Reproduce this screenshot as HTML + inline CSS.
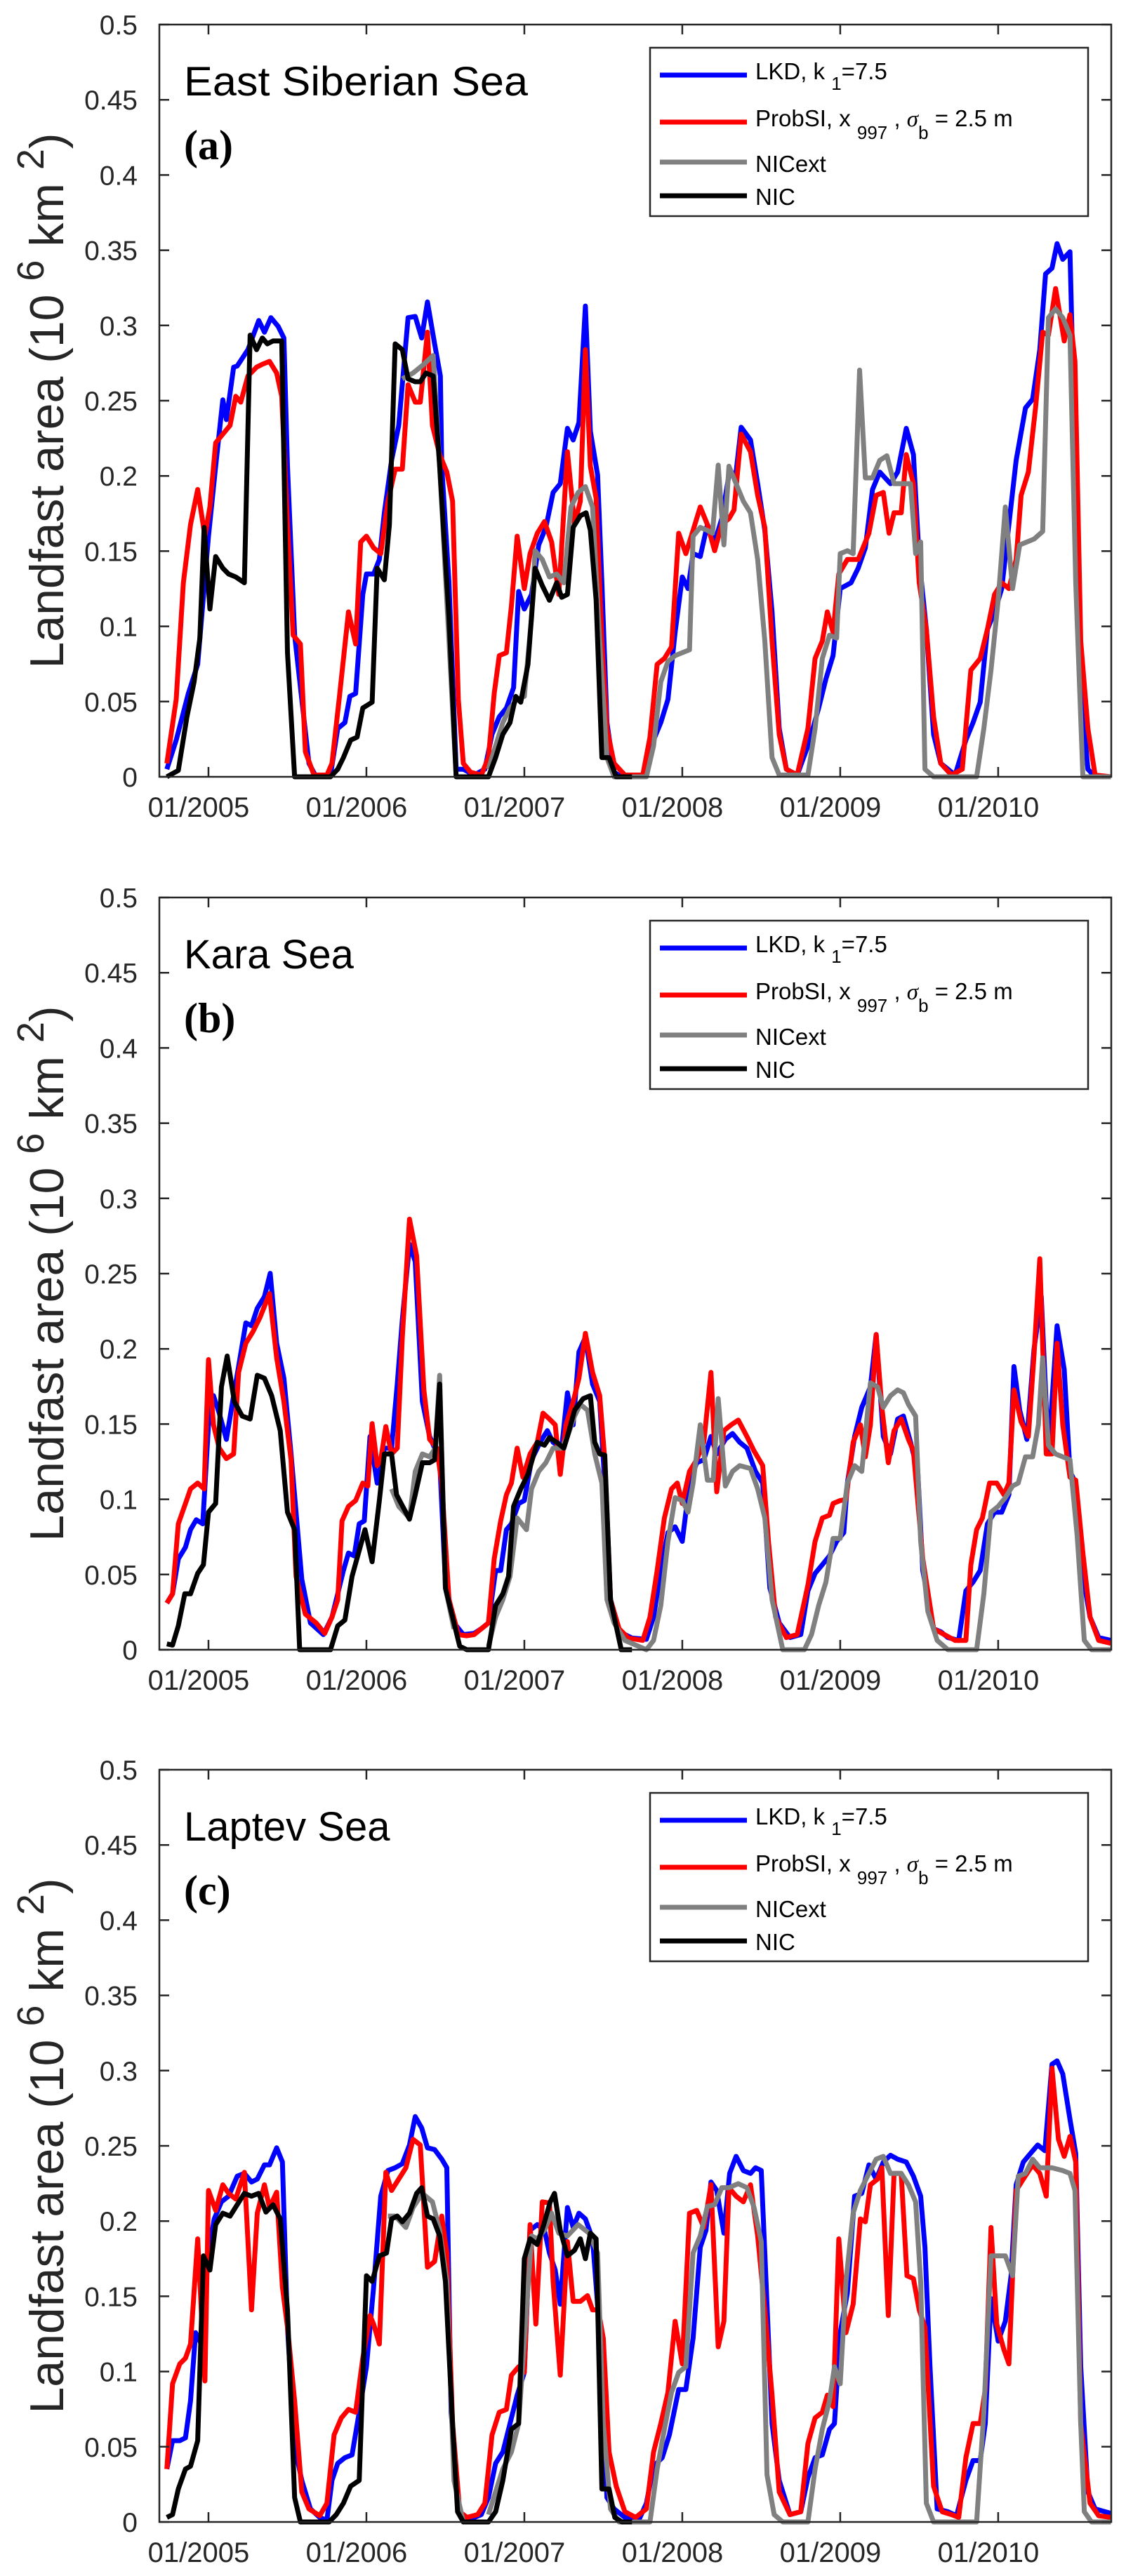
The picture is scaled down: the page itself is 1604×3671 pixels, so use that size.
<!DOCTYPE html>
<html><head><meta charset="utf-8"><title>Landfast area</title>
<style>
html,body{margin:0;padding:0;background:#fff;}
svg{display:block;font-family:"Liberation Sans",sans-serif;}
</style></head>
<body>
<svg id="fig" width="1604" height="3671" viewBox="0 0 1604 3671" xmlns="http://www.w3.org/2000/svg"></svg>
<script>
// ---- chart data (digitized: t = time in digitizer units, v = level in digitizer units) ----
// time calibration: year = 2005 + (t - 290)/220 ; value calibration per panel below
const xTickYears = [2005, 2006, 2007, 2008, 2009, 2010];
const xTickLabels = ["01/2005","01/2006","01/2007","01/2008","01/2009","01/2010"];
const yTickValues = [0,0.05,0.1,0.15,0.2,0.25,0.3,0.35,0.4,0.45,0.5];
const yTickLabels = ["0","0.05","0.1","0.15","0.2","0.25","0.3","0.35","0.4","0.45","0.5"];
const panelTitles = ["East Siberian Sea","Kara Sea","Laptev Sea"];
const panelLetters = ["(a)","(b)","(c)"];
const valueZero = [1333, 1386, 1473];
const valueScale = [2582, 2582, 2646];

const esLKD=[232,1320,245,1270,262,1190,275,1140,290,920,300,800,310,686,315,720,325,630,330,628,345,600,360,550,368,570,377,545,387,560,395,580,400,800,410,1090,420,1200,430,1310,440,1333,460,1330,470,1250,480,1240,487,1195,495,1190,505,1020,510,985,520,985,528,960,535,880,545,790,555,730,568,545,578,543,587,580,595,518,605,590,613,645,615,800,625,1000,635,1320,645,1320,660,1330,675,1320,685,1260,695,1230,705,1215,715,1180,722,1015,730,1045,740,1020,750,935,760,905,770,845,780,830,790,735,798,755,806,725,815,525,822,740,832,815,838,1000,845,1240,855,1325,865,1333,900,1330,910,1270,920,1240,930,1200,940,1085,950,990,958,1010,965,950,975,955,985,900,995,930,1005,890,1015,815,1025,810,1032,733,1045,755,1055,830,1065,910,1075,1050,1085,1250,1095,1320,1110,1330,1125,1280,1140,1215,1150,1165,1160,1125,1170,1010,1185,1000,1195,975,1205,940,1215,840,1225,810,1240,830,1250,810,1262,735,1272,780,1280,960,1290,1080,1300,1260,1310,1310,1330,1330,1345,1270,1355,1240,1365,1205,1375,1080,1385,1050,1395,1010,1405,900,1415,790,1428,700,1438,685,1448,600,1456,470,1465,460,1472,418,1480,445,1490,432,1497,780,1505,1180,1515,1320,1525,1333,1547,1333];
const esProb=[232,1310,245,1200,255,1000,265,900,275,840,285,920,292,870,300,760,310,745,320,730,328,680,335,690,345,645,357,630,365,625,375,620,385,640,392,680,400,900,408,1090,418,1105,425,1290,437,1330,455,1330,462,1310,472,1200,485,1050,495,1105,502,930,510,920,520,940,530,950,540,860,550,805,560,805,568,660,578,690,585,690,595,570,602,730,612,780,622,810,630,860,638,1200,645,1310,655,1325,670,1330,680,1300,688,1190,695,1125,705,1120,712,1040,720,920,730,1010,738,950,748,915,758,895,768,930,778,1020,790,775,800,900,808,860,815,600,822,800,830,855,838,1100,845,1250,855,1310,870,1330,895,1330,905,1265,915,1140,925,1130,935,1110,945,915,955,950,965,910,975,870,985,900,995,945,1005,900,1015,890,1022,875,1032,745,1045,775,1055,850,1065,905,1075,1100,1085,1260,1095,1320,1110,1330,1125,1250,1135,1130,1145,1100,1152,1050,1160,1085,1168,985,1180,960,1195,960,1210,915,1220,850,1230,845,1238,915,1245,880,1255,880,1262,780,1272,830,1280,1000,1290,1080,1300,1230,1310,1310,1325,1330,1340,1320,1352,1150,1365,1130,1375,1080,1385,1020,1395,1000,1405,1010,1415,960,1422,850,1432,810,1442,700,1452,570,1460,575,1470,495,1482,585,1490,540,1497,620,1505,1100,1515,1250,1525,1330,1547,1333];
const esNICext=[560,650,575,640,590,625,603,610,612,800,625,1100,635,1333,null,null,680,1320,690,1280,700,1240,710,1215,720,1200,730,1195,740,1060,745,945,755,960,765,990,775,985,785,1000,795,870,805,845,815,835,825,870,835,1100,845,1300,855,1333,900,1333,910,1280,920,1170,930,1135,940,1125,950,1120,960,1115,965,920,975,905,985,910,992,915,1000,798,1008,935,1015,800,1025,830,1035,860,1045,880,1055,960,1065,1100,1075,1300,1085,1330,1125,1330,1135,1250,1145,1130,1155,1090,1165,1095,1170,950,1180,945,1188,950,1197,635,1205,820,1215,820,1225,790,1235,782,1245,830,1255,830,1268,830,1275,950,1282,930,1288,1320,1300,1333,1360,1333,1370,1250,1380,1150,1390,1030,1400,870,1410,1010,1420,935,1430,930,1440,925,1452,912,1460,545,1470,530,1480,545,1490,575,1498,1000,1508,1333,1547,1333];
const esNIC=[232,1333,248,1322,260,1230,270,1170,278,1095,284,905,292,1045,300,955,310,975,318,985,328,990,340,1000,348,575,357,600,365,580,372,590,380,585,392,585,400,1120,410,1333,460,1333,470,1320,478,1300,488,1270,497,1265,505,1215,518,1205,525,975,535,995,542,900,550,590,560,600,568,650,578,655,585,655,593,640,603,645,612,800,625,1060,635,1333,680,1333,690,1300,700,1260,710,1240,718,1195,725,1205,735,1140,745,975,755,1005,765,1030,775,1000,782,1025,790,1020,798,905,808,885,816,880,822,910,830,1030,838,1300,848,1300,858,1333,880,1333];

const kaLKD=[232,1306,240,1290,248,1230,258,1210,265,1180,273,1163,282,1170,290,1000,297,950,305,980,315,1025,325,950,332,900,342,825,350,830,358,800,368,780,376,740,385,860,395,920,405,1050,420,1265,432,1340,450,1360,462,1330,470,1290,478,1250,485,1220,493,1225,500,1170,507,1165,515,1020,525,1100,535,1040,545,1040,553,930,560,820,570,690,578,720,588,960,598,1020,612,1060,620,1270,632,1340,645,1360,660,1358,670,1350,680,1340,690,1250,697,1250,705,1180,712,1170,722,1135,730,1130,740,1060,752,1030,762,1010,770,1030,782,1040,790,945,798,1000,806,875,815,850,825,930,835,960,842,1100,850,1300,862,1355,880,1366,900,1368,910,1330,920,1250,930,1185,940,1175,950,1200,960,1100,970,1065,980,1060,990,1020,998,1050,1010,1025,1020,1015,1030,1030,1040,1040,1052,1080,1062,1100,1072,1280,1085,1340,1100,1365,1115,1360,1125,1285,1135,1255,1145,1240,1155,1225,1165,1200,1175,1185,1180,1100,1190,1020,1200,970,1212,935,1220,845,1230,1020,1240,1050,1250,990,1258,985,1268,1030,1278,1080,1285,1250,1300,1350,1310,1355,1320,1365,1335,1370,1345,1285,1355,1270,1365,1250,1375,1170,1385,1150,1395,1150,1405,1120,1412,900,1420,975,1430,1025,1440,870,1450,780,1460,1050,1472,830,1482,905,1490,1080,1498,1100,1508,1260,1518,1330,1530,1365,1547,1370];
const kaProb=[232,1306,240,1290,248,1170,258,1135,265,1110,275,1100,284,1110,290,888,297,1000,305,1040,315,1058,325,1050,332,910,342,860,352,840,362,815,375,775,385,885,395,960,405,1060,412,1260,425,1325,440,1340,452,1358,462,1330,470,1300,476,1165,485,1140,495,1130,505,1100,512,1105,518,998,525,1070,530,1060,537,1003,545,1050,553,1040,560,850,570,647,580,710,590,940,598,1025,608,1040,615,1100,625,1300,638,1360,650,1362,660,1360,670,1350,680,1340,688,1230,697,1165,705,1120,712,1100,720,1040,728,1090,738,1050,748,1030,756,980,765,990,773,1000,780,1085,788,1000,798,960,806,920,815,843,825,910,835,950,842,1060,850,1300,862,1350,875,1366,895,1370,905,1330,915,1250,925,1160,935,1110,943,1100,950,1135,960,1080,970,1060,980,1030,990,910,998,1115,1008,1010,1018,1000,1028,992,1040,1020,1050,1045,1062,1070,1070,1200,1080,1330,1095,1365,1110,1360,1125,1275,1135,1200,1145,1160,1155,1155,1160,1135,1170,1130,1178,1128,1188,1030,1198,1000,1205,1055,1212,1000,1220,845,1228,970,1237,1065,1245,1010,1255,990,1265,1025,1272,1045,1285,1230,1300,1350,1315,1360,1330,1370,1345,1370,1352,1240,1360,1180,1368,1160,1378,1100,1388,1100,1398,1120,1405,1100,1412,940,1422,995,1432,1020,1440,880,1448,715,1457,1050,1465,1050,1472,860,1480,1000,1490,1090,1498,1095,1508,1220,1518,1330,1530,1370,1547,1375];
const kaNICext=[545,1110,555,1140,570,1160,578,1080,588,1050,598,1055,606,1040,612,915,620,1280,632,1350,null,null,680,1380,690,1330,700,1300,710,1260,720,1160,733,1180,740,1110,750,1080,760,1065,770,1040,782,1040,790,1020,800,985,808,965,818,975,828,1050,838,1100,845,1300,855,1340,870,1370,900,1386,910,1370,920,1310,930,1200,940,1125,950,1130,958,1150,965,1100,975,1000,985,1095,993,1095,1000,955,1010,1105,1020,1080,1030,1070,1045,1075,1055,1110,1065,1160,1075,1300,1090,1386,1120,1386,1130,1360,1140,1310,1150,1270,1160,1195,1170,1195,1180,1100,1190,1070,1200,1080,1212,928,1222,935,1230,970,1240,950,1250,940,1258,945,1265,965,1275,985,1282,1200,1292,1320,1305,1370,1320,1386,1360,1386,1370,1290,1380,1150,1390,1140,1400,1125,1410,1105,1418,1100,1428,1055,1438,1055,1446,1000,1452,885,1460,1035,1470,1050,1480,1055,1490,1060,1500,1190,1510,1370,1520,1386,1547,1386];
const kaNIC=[232,1376,240,1378,248,1345,257,1290,265,1290,275,1255,283,1240,290,1150,300,1135,308,935,316,882,326,960,337,985,348,990,358,915,368,920,378,950,390,1010,400,1150,410,1180,417,1386,460,1386,470,1345,480,1335,490,1260,508,1180,518,1235,528,1130,535,1050,545,1050,552,1120,570,1162,578,1120,588,1065,598,1065,605,1060,612,930,620,1280,630,1330,640,1380,650,1386,680,1386,690,1310,700,1290,708,1260,715,1140,725,1110,735,1085,748,1030,758,1035,765,1022,775,1030,785,1040,790,1020,800,975,812,955,822,950,828,1030,835,1050,842,1052,850,1300,857,1340,865,1386,880,1386];

const laLKD=[232,1380,240,1330,250,1330,258,1325,265,1260,272,1140,280,1160,290,1000,298,940,308,910,318,900,330,865,340,860,350,875,358,870,368,845,375,845,385,815,393,840,400,1130,410,1340,420,1400,432,1450,445,1465,455,1470,462,1400,470,1370,480,1360,490,1355,500,1280,510,1200,520,1060,530,900,540,855,550,850,560,843,570,810,578,760,587,780,595,815,605,818,615,835,622,850,628,1280,640,1460,655,1468,670,1460,680,1430,690,1370,700,1350,710,1300,720,1250,730,1210,738,960,748,950,758,960,765,1000,773,1030,780,1090,790,920,798,955,806,930,815,940,825,975,835,1140,845,1430,855,1450,870,1465,890,1468,900,1440,910,1375,922,1360,932,1320,945,1240,955,1240,965,1150,975,990,983,960,990,875,998,890,1008,965,1016,860,1025,830,1035,855,1045,860,1052,850,1060,855,1065,1000,1075,1300,1085,1400,1100,1460,1115,1455,1125,1395,1135,1360,1145,1355,1155,1310,1162,1300,1170,1140,1180,1070,1190,900,1200,895,1210,845,1220,870,1230,840,1240,828,1250,835,1262,840,1272,865,1282,900,1288,990,1295,1200,1305,1450,1320,1455,1332,1462,1345,1400,1355,1365,1365,1365,1372,1300,1380,1080,1390,1155,1400,1120,1408,1040,1415,880,1425,840,1435,825,1445,810,1455,820,1465,668,1472,662,1480,685,1490,765,1498,825,1505,1200,1515,1420,1525,1450,1547,1458];
const laProb=[232,1380,240,1230,250,1195,258,1185,265,1160,275,975,285,1225,290,890,300,925,310,880,318,895,328,905,340,858,350,1100,358,930,368,880,375,920,385,893,393,1060,400,1130,410,1260,420,1420,430,1450,445,1462,455,1440,465,1320,475,1290,485,1275,495,1280,505,1185,515,1110,520,1125,528,1160,537,858,545,890,555,870,565,850,575,800,585,810,595,1025,605,1015,615,935,622,1000,630,1300,640,1455,650,1465,665,1460,675,1440,685,1320,695,1280,705,1275,712,1215,722,1200,730,1210,738,950,746,1125,755,910,765,912,770,1050,780,1215,790,980,798,1085,808,1085,818,1075,825,1100,833,1100,840,1150,848,1350,858,1410,870,1455,885,1465,900,1450,910,1350,920,1300,930,1245,940,1120,950,1195,960,930,970,925,980,955,990,880,1000,1165,1008,1120,1015,885,1025,900,1035,910,1045,880,1055,970,1065,1100,1075,1250,1085,1420,1100,1460,1115,1455,1125,1335,1135,1290,1145,1280,1152,1250,1160,1270,1168,975,1178,1140,1188,1090,1198,940,1205,945,1212,880,1222,870,1228,850,1237,1110,1245,860,1255,860,1263,1040,1272,1045,1280,1100,1288,1130,1300,1410,1312,1455,1325,1460,1335,1465,1345,1360,1355,1300,1365,1300,1372,1240,1380,955,1388,1125,1398,1170,1405,1195,1415,890,1425,870,1438,845,1448,860,1457,900,1465,675,1474,800,1482,830,1490,795,1498,840,1505,1300,1518,1440,1530,1462,1547,1465];
const laNICext=[540,935,550,935,565,955,575,920,588,895,602,910,612,960,622,1050,632,1400,645,1473,null,null,680,1460,690,1420,700,1380,712,1350,722,1300,740,970,748,975,758,960,768,930,778,965,790,970,805,950,820,965,832,1000,840,1300,850,1450,862,1473,905,1473,915,1380,925,1310,935,1245,945,1210,955,1200,965,1000,975,970,985,918,995,915,1005,885,1015,885,1028,878,1040,885,1050,920,1060,980,1068,1390,1078,1460,1090,1473,1125,1473,1135,1380,1145,1310,1155,1260,1162,1200,1170,1230,1178,1050,1188,930,1198,890,1210,860,1220,835,1230,830,1240,860,1255,860,1265,880,1275,910,1282,1050,1290,1440,1300,1473,1360,1473,1370,1280,1380,1005,1390,1005,1400,1005,1410,1040,1418,865,1428,860,1438,835,1448,850,1465,850,1480,855,1490,860,1497,890,1505,1300,1510,1455,1520,1473,1547,1473];
const laNIC=[232,1465,240,1460,248,1415,258,1380,265,1375,275,1330,283,1005,292,1030,300,950,310,930,320,935,330,915,340,895,350,900,360,895,370,928,380,915,390,940,400,1100,410,1430,418,1473,458,1473,468,1460,478,1440,488,1410,500,1400,510,1040,518,1050,528,1005,538,1000,545,940,553,935,560,945,570,930,580,895,587,885,595,935,603,940,612,970,620,1050,630,1300,637,1455,645,1473,680,1473,690,1455,700,1400,712,1310,722,1300,730,1010,738,975,748,985,757,950,766,910,772,895,780,960,790,1005,800,995,808,975,815,1010,822,965,830,975,838,1415,848,1415,856,1465,866,1473,880,1473];

const panelSeries = [
  [esLKD, esProb, esNICext, esNIC],
  [kaLKD, kaProb, kaNICext, kaNIC],
  [laLKD, laProb, laNICext, laNIC]
];
const seriesNames = ["lkd","probsi","nicext","nic"];
const seriesColors = ["#0000ff","#ff0000","#808080","#000000"];

// ---- layout ----
const NS = "http://www.w3.org/2000/svg";
const svg = document.getElementById("fig");
const AX_L = 227, AX_R = 1583, X0 = 2004.689, X1 = 2010.716;
const panelTops = [35, 1279, 2522];
const panelBottoms = [1107, 2351, 3594];
function xScale(year){ return AX_L + (year - X0) / (X1 - X0) * (AX_R - AX_L); }
function yScale(p, v){ return panelBottoms[p] - v / 0.5 * (panelBottoms[p] - panelTops[p]); }
function toYear(t){ return 2005 + (t - 290) / 220; }
function toValue(p, v){ return (valueZero[p] - v) / valueScale[p]; }

function mk(tag, attrs, parent){
  const el = document.createElementNS(NS, tag);
  for (const k in attrs) el.setAttribute(k, attrs[k]);
  (parent || svg).appendChild(el);
  return el;
}

for (let p = 0; p < 3; p++){
  const top = panelTops[p], bot = panelBottoms[p];
  const g = mk("g", {});
  
  

  for (let s = 0; s < 4; s++){
    const arr = panelSeries[p][s];
    let d = "", pen = false;
    for (let i = 0; i < arr.length; i += 2){
      if (arr[i] === null){ pen = false; continue; }
      const px = xScale(toYear(arr[i])), py = yScale(p, toValue(p, arr[i+1]));
      d += (pen ? "L" : "M") + px.toFixed(1) + "," + py.toFixed(1);
      pen = true;
    }
    const path = mk("path", {d: d, fill: "none", stroke: seriesColors[s], "stroke-width": 7, "stroke-linejoin": "round", "stroke-linecap": "butt"}, g);
    
    
  }

  const box = mk("rect", {x: AX_L, y: top, width: AX_R - AX_L, height: bot - top, fill: "none", stroke: "#262626", "stroke-width": 2.5}, g);
  
  

  for (let i = 0; i < yTickValues.length; i++){
    const y = yScale(p, yTickValues[i]);
    const t1 = mk("path", {d: `M${AX_L},${y}h14M${AX_R},${y}h-14`, stroke: "#262626", "stroke-width": 2.5}, g);
    
    
    const lbl = mk("text", {x: 196, y: y + 14, "text-anchor": "end", "font-size": 39, fill: "#262626"}, g);
    lbl.textContent = yTickLabels[i];
    
    
  }
  for (let i = 0; i < xTickYears.length; i++){
    const x = xScale(xTickYears[i]);
    const t2 = mk("path", {d: `M${x},${bot}v-14M${x},${top}v14`, stroke: "#262626", "stroke-width": 2.5}, g);
    
    
    const lbl = mk("text", {x: x - 14, y: bot + 57, "text-anchor": "middle", "font-size": 40, fill: "#262626"}, g);
    lbl.textContent = xTickLabels[i];
    
    
  }

  const cy = (top + bot) / 2;
  const yt = mk("text", {transform: `translate(90,${cy}) rotate(-90)`, "text-anchor": "middle", "font-size": 68, fill: "#262626"}, g);
  
  
  yt.innerHTML = 'Landfast area (10  <tspan dy="-28" font-size="54">6</tspan><tspan dy="28">  km </tspan><tspan dy="-28" font-size="54">2</tspan><tspan dy="28">)</tspan>';

  const tt = mk("text", {x: 262, y: top + 101, "font-size": 58, fill: "#000", textLength: 490, lengthAdjust: "spacingAndGlyphs"}, g);
  if (p !== 0){ tt.removeAttribute("textLength"); tt.removeAttribute("lengthAdjust"); }
  tt.textContent = panelTitles[p];
  
  
  const lt = mk("text", {x: 262, y: top + 192, "font-size": 60, "font-weight": "bold", "font-family": "Liberation Serif, serif", fill: "#000"}, g);
  lt.textContent = panelLetters[p];
  
  

  const lg = mk("g", {}, g);
  
  
  const lb = mk("rect", {x: 926, y: top + 33, width: 624, height: 240, fill: "#fff", stroke: "#262626", "stroke-width": 2.5}, lg);
  
  
  const rowY = [72, 139, 196, 244];
  const txtY = [78, 145, 210, 257];
  const labels = [
    'LKD, k <tspan dy="15" font-size="26">1</tspan><tspan dy="-15">=7.5</tspan>',
    'ProbSI, x <tspan dy="18" font-size="26">997</tspan><tspan dy="-18"> , </tspan><tspan font-family="Liberation Serif, serif" font-style="italic">σ</tspan><tspan dy="18" font-size="26">b</tspan><tspan dy="-18"> = 2.5 m</tspan>',
    'NICext',
    'NIC'
  ];
  for (let s = 0; s < 4; s++){
    const ll = mk("line", {x1: 940, x2: 1064, y1: top + rowY[s], y2: top + rowY[s], stroke: seriesColors[s], "stroke-width": 7}, lg);
    
    
    const lt2 = mk("text", {x: 1076, y: top + txtY[s], "font-size": 33, fill: "#000"}, lg);
    lt2.innerHTML = labels[s];
    
    
  }
}
</script>
</body></html>
